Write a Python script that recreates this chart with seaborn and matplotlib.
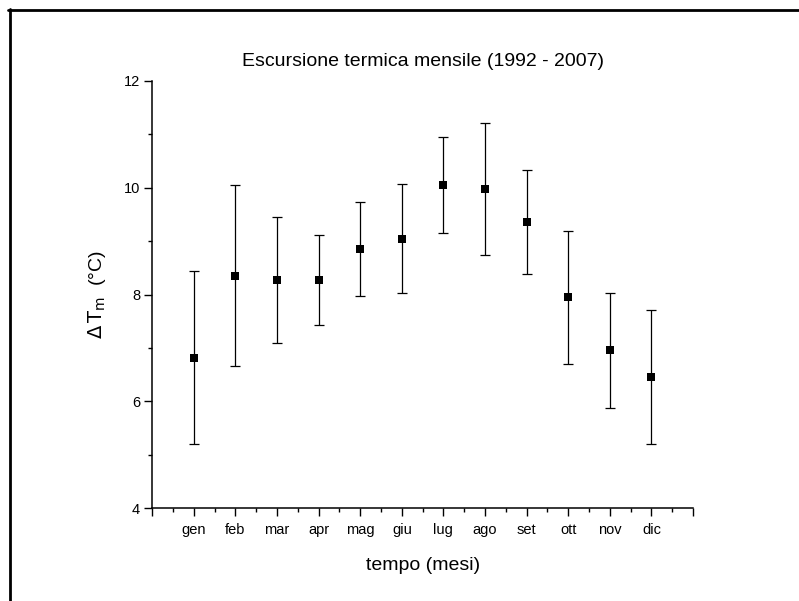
import matplotlib
matplotlib.use("Agg")
import matplotlib.pyplot as plt
from matplotlib.lines import Line2D
from matplotlib.ticker import MultipleLocator, FixedLocator, NullFormatter
import seaborn as sns
import pandas as pd

# Monthly thermal excursion, 1992-2007: mean and spread per month
mesi = ["gen", "feb", "mar", "apr", "mag", "giu", "lug", "ago", "set", "ott", "nov", "dic"]
delta_t = [6.82, 8.35, 8.27, 8.27, 8.85, 9.04, 10.05, 9.97, 9.36, 7.95, 6.96, 6.45]
errore = [1.62, 1.69, 1.18, 0.835, 0.875, 1.02, 0.89, 1.235, 0.97, 1.245, 1.075, 1.255]

df = pd.DataFrame({"pos": range(1, len(mesi) + 1), "mese": mesi,
                   "dT": delta_t, "err": errore})

sns.set_theme(style="ticks")
plt.rcParams["font.family"] = ["Liberation Sans", "DejaVu Sans"]
plt.rcParams["text.color"] = "black"
plt.rcParams["axes.labelcolor"] = "black"

fig = plt.figure(figsize=(7.99, 6.01), dpi=100)
ax = fig.add_axes([0.1906, 0.1542, 0.6767, 0.7115])

ax.errorbar(df["pos"], df["dT"], yerr=df["err"], fmt="none", ecolor="black",
            elinewidth=0.9, capsize=3.3, capthick=0.9, zorder=2)
sns.scatterplot(data=df, x="pos", y="dT", marker="s", s=34, color="black",
                edgecolor="black", linewidth=0, ax=ax, zorder=3, legend=False)

ax.set_xlim(0, 13)
ax.set_ylim(4, 12)
ax.xaxis.set_major_locator(FixedLocator(range(0, 14)))
ax.set_xticklabels([""] + mesi + [""])
ax.xaxis.set_minor_locator(MultipleLocator(0.5))
ax.yaxis.set_major_locator(MultipleLocator(2))
ax.yaxis.set_minor_locator(MultipleLocator(1))
ax.yaxis.set_minor_formatter(NullFormatter())

for side in ("top", "right"):
    ax.spines[side].set_visible(False)
for side in ("left", "bottom"):
    ax.spines[side].set_linewidth(1.1)
    ax.spines[side].set_color("black")

ax.tick_params(which="major", direction="out", length=5.8, width=1.0,
               labelsize=10.5, colors="black", pad=3)
ax.tick_params(which="minor", direction="out", length=3.0, width=1.0, colors="black")
ax.tick_params(axis="x", which="major", pad=5)

ax.set_xlabel("tempo (mesi)", fontsize=14, labelpad=14)
ax.set_ylabel(r"$\Delta\,\mathrm{T}_{\mathrm{m}}$  (°C)", fontsize=14, labelpad=11)
ax.set_title("Escursione termica mensile (1992 - 2007)", fontsize=14, pad=10.5)
ax.grid(False)

# Frame lines along the top and left edges of the figure
W, H = 799, 601
fig.add_artist(Line2D([8 / W, 1.0], [1 - 10 / H, 1 - 10 / H], transform=fig.transFigure,
                      color="black", linewidth=2.0))
fig.add_artist(Line2D([10 / W, 10 / W], [1 - 9 / H, 0.0], transform=fig.transFigure,
                      color="black", linewidth=2.0))

fig.savefig("out.png", dpi=100)
